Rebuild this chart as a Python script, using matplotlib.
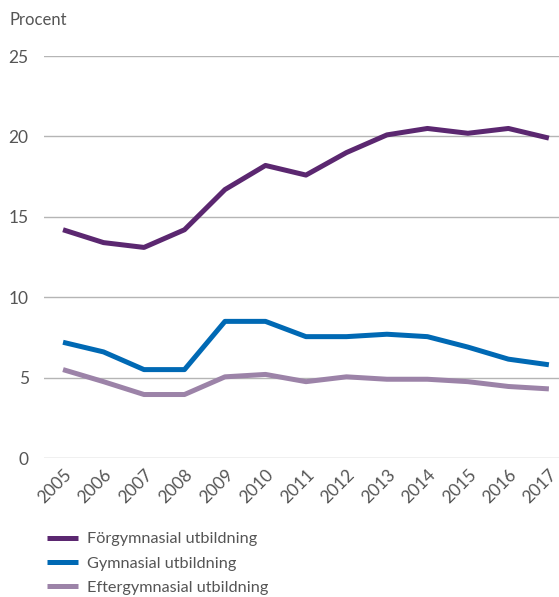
import matplotlib
matplotlib.use("Agg")
import matplotlib.pyplot as plt

years = list(range(2005, 2018))
forgymnasial = [14.2, 13.4, 13.1, 14.2, 16.7, 18.2, 17.6, 19.0, 20.1, 20.5, 20.2, 20.5, 19.9]
gymnasial = [7.2, 6.6, 5.5, 5.5, 8.5, 8.5, 7.55, 7.55, 7.7, 7.55, 6.9, 6.15, 5.8]
eftergymnasial = [5.5, 4.75, 3.95, 3.95, 5.05, 5.2, 4.75, 5.05, 4.9, 4.9, 4.75, 4.45, 4.3]
series_names = ["Förgymnasial utbildning", "Gymnasial utbildning", "Eftergymnasial utbildning"]
y_ticks = [0, 5, 10, 15, 20, 25]

plt.rcParams['font.family'] = ['Lato', 'DejaVu Sans']
text_color = '#555555'

fig = plt.figure(figsize=(5.59, 5.97), dpi=100)
ax = fig.add_axes([0.0787, 0.2328, 1 - 0.0787, 0.906 - 0.2328])

colors = ['#5b2770', '#0069b4', '#9c83a8']
for values, name, c in zip([forgymnasial, gymnasial, eftergymnasial], series_names, colors):
    ax.plot(years, values, color=c, linewidth=3.6, label=name, solid_capstyle='butt', zorder=3)

ax.set_ylim(0, 25)
ax.set_xlim(2004.53, 2017.25)
ax.set_yticks(y_ticks)
ax.set_xticks(years)
ax.set_xticklabels([str(y) for y in years], rotation=45, ha='right', rotation_mode='anchor')
ax.grid(axis='y', color='#b5b5b5', linewidth=1)
ax.set_axisbelow(True)
for s in ax.spines.values():
    s.set_visible(False)
ax.tick_params(axis='both', length=0, labelsize=12.5, labelcolor=text_color)
ax.tick_params(axis='y', pad=11)
ax.tick_params(axis='x', pad=6)

fig.text(0.017, 0.966, "Procent", fontsize=12, color=text_color, va='center')

leg = fig.legend(loc='upper left', bbox_to_anchor=(0.072, 0.12), frameon=False,
                 handlelength=1.9, handletextpad=0.6, labelspacing=0.62, fontsize=11.7,
                 labelcolor=text_color, borderaxespad=0)

fig.savefig("out.png", dpi=100)
